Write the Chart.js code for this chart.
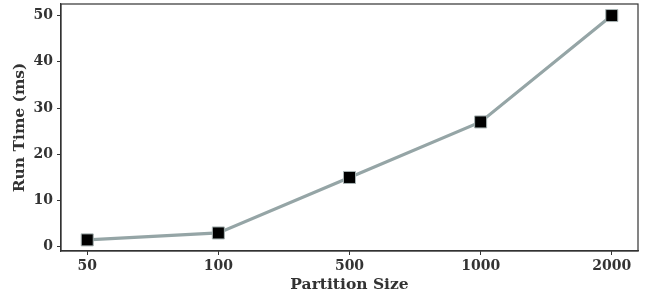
<!DOCTYPE html>
<html>
<head>
<meta charset="utf-8">
<script src="https://cdn.jsdelivr.net/npm/chart.js@4/dist/chart.umd.min.js"></script>
<style>
  html, body { margin: 0; padding: 0; background: #fff; }
  #wrap { width: 645px; height: 301px; }
</style>
</head>
<body>
<div id="wrap"><canvas id="chart" width="645" height="301"></canvas></div>
<script>
var partitionSizes = ["50", "100", "500", "1000", "2000"];
var runTimes = [1.5, 3, 15, 27, 50];
var yTicks = [0, 10, 20, 30, 40, 50];

var axisColor = "#333333";
var fontFamily = "'DejaVu Serif', 'Liberation Serif', serif";

// draws the full box round the plot area (matplotlib style)
var frameBox = {
    id: "frameBox",
    afterDraw: function (chart) {
        var a = chart.chartArea;
        var ctx = chart.ctx;
        ctx.save();
        ctx.strokeStyle = axisColor;
        ctx.lineWidth = 1.2;
        ctx.strokeRect(a.left, a.top, a.right - a.left, a.bottom - a.top);
        ctx.restore();
    }
};

window.addEventListener("load", function () {
    var ctx = document.getElementById("chart").getContext("2d");
    var points = runTimes.map(function (v, i) { return { x: i, y: v }; });

    new Chart(ctx, {
        type: "line",
        data: {
            datasets: [{
                data: points,
                borderColor: "#95a5a6",
                borderWidth: 3.2,
                pointStyle: "rect",
                pointRadius: 8.5,
                pointBackgroundColor: "#000000",
                pointBorderColor: "#a9b4b4",
                pointBorderWidth: 1,
                tension: 0
            }]
        },
        options: {
            responsive: false,
            animation: false,
            layout: { autoPadding: false, padding: { left: 0, right: 7, top: 4, bottom: 0 } },
            plugins: {
                legend: { display: false },
                tooltip: { enabled: false }
            },
            scales: {
                x: {
                    type: "linear",
                    min: -0.2,
                    max: 4.2,
                    afterBuildTicks: function (scale) {
                        scale.ticks = partitionSizes.map(function (s, i) { return { value: i }; });
                    },
                    afterFit: function (scale) {
                        scale.height = 50;
                        scale.paddingLeft = 0;
                        scale.paddingRight = 0;
                    },
                    grid: { drawOnChartArea: false, tickLength: 4, color: axisColor, tickWidth: 1 },
                    border: { color: axisColor, width: 1.2 },
                    ticks: {
                        color: "#333",
                        padding: 3,
                        font: { family: fontFamily, size: 14, weight: "bold" },
                        callback: function (v) { return partitionSizes[v]; }
                    },
                    title: {
                        display: true,
                        text: "Partition Size",
                        color: "#333",
                        padding: { top: 0, bottom: 6.5 },
                        font: { family: fontFamily, size: 15.5, weight: "bold" }
                    }
                },
                y: {
                    min: -0.9,
                    max: 52.5,
                    afterBuildTicks: function (scale) {
                        scale.ticks = yTicks.map(function (t) { return { value: t }; });
                    },
                    afterFit: function (scale) {
                        scale.width = 61;
                        scale.paddingTop = 0;
                        scale.paddingBottom = 0;
                    },
                    grid: { drawOnChartArea: false, tickLength: 4, color: axisColor, tickWidth: 1 },
                    border: { color: axisColor, width: 1.2 },
                    ticks: {
                        color: "#333",
                        padding: 4,
                        font: { family: fontFamily, size: 14, weight: "bold" }
                    },
                    title: {
                        display: true,
                        text: "Run Time (ms)",
                        color: "#333",
                        padding: { top: 11, bottom: 0 },
                        font: { family: fontFamily, size: 15.5, weight: "bold" }
                    }
                }
            }
        },
        plugins: [frameBox]
    });
});
</script>
</body>
</html>
